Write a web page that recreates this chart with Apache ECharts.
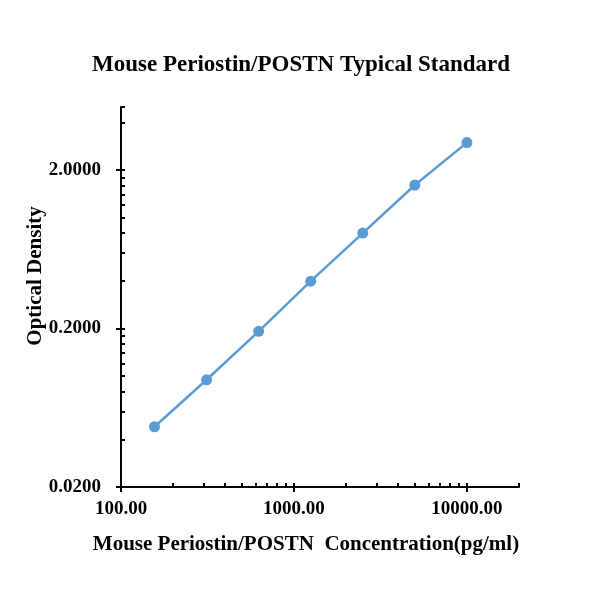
<!DOCTYPE html>
<html>
<head>
<meta charset="utf-8">
<script src="https://cdn.jsdelivr.net/npm/echarts@6/dist/echarts.min.js"></script>
<style>
html,body{margin:0;padding:0;background:#fff;}
#chart{width:610px;height:609px;}
</style>
</head>
<body>
<div id="chart"></div>
<script>
// Data
var concentrations = [156.25, 312.5, 625, 1250, 2500, 5000, 10000];
var opticalDensity = [0.048, 0.095, 0.192, 0.398, 0.80, 1.61, 2.98];

// Tick labels / tick values
var xMajorTicks = [100, 1000, 10000];
var xMinorTicks = [200, 300, 400, 500, 600, 700, 800, 900,
                   2000, 3000, 4000, 5000, 6000, 7000, 8000, 9000, 20000];
var yMajorTicks = [0.02, 0.2, 2];
var yMinorTicks = [0.04, 0.06, 0.08, 0.1, 0.12, 0.14, 0.16, 0.18,
                   0.4, 0.6, 0.8, 1.0, 1.2, 1.4, 1.6, 1.8, 4, 5];

var xMin = 100, xMax = 20000, yMin = 0.02, yMax = 5;

var titleText = 'Mouse Periostin/POSTN Typical Standard';
var xName = 'Mouse Periostin/POSTN  Concentration(pg/ml)';
var yName = 'Optical Density';

var FONT = '"Liberation Serif", "Times New Roman", serif';
var lineStyleAxis = {color: '#000', width: 2};

var chart = echarts.init(document.getElementById('chart'), null, {renderer: 'canvas'});
chart.setOption({
  backgroundColor: '#fff',
  animation: false,
  title: {
    text: titleText,
    left: 92,
    top: 54,
    padding: 0,
    textStyle: {fontFamily: FONT, fontWeight: 'bold', fontSize: 23, color: '#000'}
  },
  grid: {left: 121, right: 91, top: 107, bottom: 122, containLabel: false},
  xAxis: [
    {
      type: 'log', logBase: 10, min: xMin, max: xMax, position: 'bottom',
      name: xName, nameLocation: 'middle', nameGap: 47, nameMoveOverlap: false,
      nameTextStyle: {fontFamily: FONT, fontWeight: 'bold', fontSize: 21, color: '#000', padding: [0, 28, 0, 0]},
      axisLine: {show: true, lineStyle: lineStyleAxis},
      axisTick: {show: true, inside: false, length: 5, customValues: xMajorTicks, lineStyle: {color: '#000', width: 2}},
      axisLabel: {show: true, margin: 13, customValues: xMajorTicks,
        fontFamily: FONT, fontWeight: 'bold', fontSize: 19, color: '#000',
        formatter: function (v) { return Number(v).toFixed(2); }},
      splitLine: {show: false}, minorTick: {show: false}
    },
    {
      type: 'log', logBase: 10, min: xMin, max: xMax, position: 'bottom',
      axisLine: {show: false},
      axisTick: {show: true, inside: true, length: 4, customValues: xMajorTicks.concat(xMinorTicks), lineStyle: {color: '#000', width: 2}},
      axisLabel: {show: false},
      splitLine: {show: false}
    }
  ],
  yAxis: [
    {
      type: 'log', logBase: 10, min: yMin, max: yMax, position: 'left',
      name: yName, nameLocation: 'middle', nameGap: 75, nameRotate: 90, nameMoveOverlap: false,
      nameTextStyle: {fontFamily: FONT, fontWeight: 'bold', fontSize: 21, color: '#000', padding: [0, 0, 0, 42]},
      axisLine: {show: true, lineStyle: lineStyleAxis},
      axisTick: {show: true, inside: false, length: 5, customValues: yMajorTicks, lineStyle: {color: '#000', width: 2}},
      axisLabel: {show: true, margin: 20, customValues: yMajorTicks,
        fontFamily: FONT, fontWeight: 'bold', fontSize: 19, color: '#000',
        formatter: function (v) { return Number(v).toFixed(4); }},
      splitLine: {show: false}, minorTick: {show: false}
    },
    {
      type: 'log', logBase: 10, min: yMin, max: yMax, position: 'left',
      axisLine: {show: false},
      axisTick: {show: true, inside: true, length: 4, customValues: yMajorTicks.concat(yMinorTicks), lineStyle: {color: '#000', width: 2}},
      axisLabel: {show: false},
      splitLine: {show: false}
    }
  ],
  series: [{
    type: 'line',
    xAxisIndex: 0, yAxisIndex: 0,
    data: concentrations.map(function (c, i) { return [c, opticalDensity[i]]; }),
    symbol: 'circle', symbolSize: 11,
    itemStyle: {color: '#5B9BD5'},
    lineStyle: {color: '#5B9BD5', width: 2.5}
  }]
});
</script>
</body>
</html>
